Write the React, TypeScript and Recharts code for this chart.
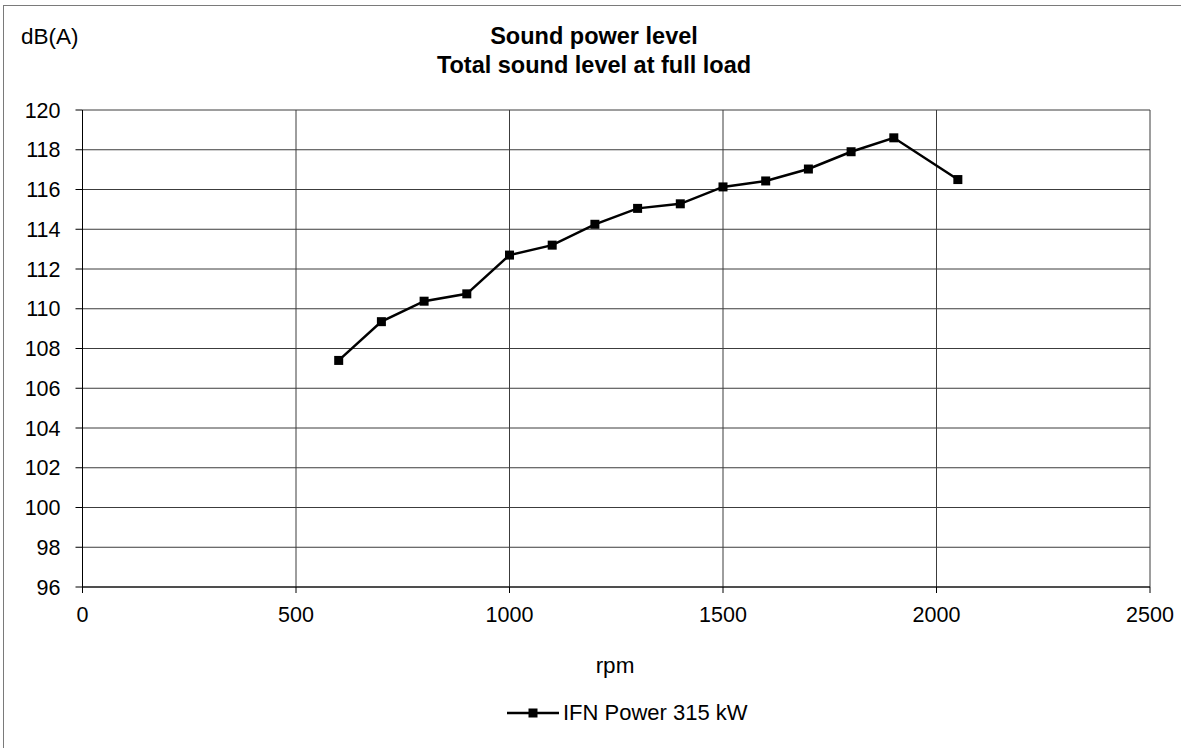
import React from 'react';
import { LineChart, Line, XAxis, YAxis, CartesianGrid } from 'recharts';

// rpm values and the measured total sound power level, dB(A)
const rpm = [600, 700, 800, 900, 1000, 1100, 1200, 1300, 1400, 1500, 1600, 1700, 1800, 1900, 2050];
const soundLevel = [107.4, 109.35, 110.38, 110.75, 112.7, 113.2, 114.25, 115.05, 115.28, 116.13, 116.43, 117.03, 117.9, 118.6, 116.5];

const xTicks = [0, 500, 1000, 1500, 2000, 2500];
const yTicks = [96, 98, 100, 102, 104, 106, 108, 110, 112, 114, 116, 118, 120];

const seriesName = 'IFN Power 315 kW';
const titleLines = ['Sound power level', 'Total sound level at full load'];

const data = rpm.map((r, i) => ({ rpm: r, level: soundLevel[i] }));

const FONT = '"Liberation Sans", Arial, sans-serif';

const YTick = ({ x, y, payload }: any) => (
  <text x={x} y={y} dy={7.5} textAnchor="end" fontSize={21.5} fontFamily={FONT} fill="#000">
    {payload.value}
  </text>
);

const XTick = ({ x, y, payload }: any) => (
  <text x={x} y={y} dy={29} textAnchor="middle" fontSize={21.5} fontFamily={FONT} fill="#000">
    {payload.value}
  </text>
);

// filled square marker like the spreadsheet original
const SquareDot = ({ cx, cy }: any) => {
  if (cx == null || cy == null) return null;
  return <rect x={cx - 4.5} y={cy - 4.5} width={9} height={9} fill="#000" />;
};

const App: React.FC = () => {
  return (
    <div
      style={{
        position: 'absolute',
        left: 0,
        top: 0,
        width: 1181,
        height: 748,
        overflow: 'hidden',
        background: '#fff',
        fontFamily: FONT,
      }}
    >
      {/* chart frame */}
      <div
        style={{
          position: 'absolute',
          left: 3,
          top: 5,
          width: 1300,
          height: 900,
          border: '1px solid #7a7a7a',
        }}
      />

      <LineChart
        width={1181}
        height={748}
        data={data}
        margin={{ top: 110, right: 31, bottom: 0, left: 0 }}
        style={{ position: 'absolute', left: 0, top: 0 }}
      >
        <CartesianGrid stroke="#3c3c3c" strokeWidth={1} />
        <XAxis
          dataKey="rpm"
          type="number"
          domain={[0, 2500]}
          ticks={xTicks}
          height={161}
          tickSize={6}
          tickMargin={0}
          stroke="#000"
          tick={<XTick />}
          interval={0}
        />
        <YAxis
          type="number"
          domain={[96, 120]}
          ticks={yTicks}
          width={82.5}
          tickSize={7}
          tickMargin={15}
          stroke="#000"
          tick={<YTick />}
          interval={0}
        />
        <Line
          dataKey="level"
          name={seriesName}
          stroke="#000"
          strokeWidth={2.5}
          dot={<SquareDot />}
          activeDot={false}
          isAnimationActive={false}
        />
      </LineChart>

      {/* unit label */}
      <div style={{ position: 'absolute', left: 21, top: 24, fontSize: 22.5, lineHeight: '26px' }}>dB(A)</div>

      {/* title */}
      <div
        style={{
          position: 'absolute',
          left: 294,
          width: 600,
          top: 22,
          textAlign: 'center',
          fontWeight: 'bold',
          fontSize: 23.5,
          lineHeight: '28.5px',
        }}
      >
        {titleLines.map((t) => (
          <div key={t}>{t}</div>
        ))}
      </div>

      {/* x axis title */}
      <div
        style={{
          position: 'absolute',
          left: 515,
          width: 200,
          top: 652,
          textAlign: 'center',
          fontSize: 22.5,
          lineHeight: '28px',
        }}
      >
        rpm
      </div>

      {/* legend */}
      <div
        style={{
          position: 'absolute',
          left: 506,
          top: 699,
          display: 'flex',
          alignItems: 'center',
          fontSize: 22,
          lineHeight: '28px',
        }}
      >
        <svg width={54} height={20} style={{ display: 'block' }}>
          <line x1={1} y1={10} x2={53} y2={10} stroke="#000" strokeWidth={2.5} />
          <rect x={22.5} y={5.5} width={9} height={9} fill="#000" />
        </svg>
        <span style={{ marginLeft: 3 }}>{seriesName}</span>
      </div>
    </div>
  );
};

export default App;
